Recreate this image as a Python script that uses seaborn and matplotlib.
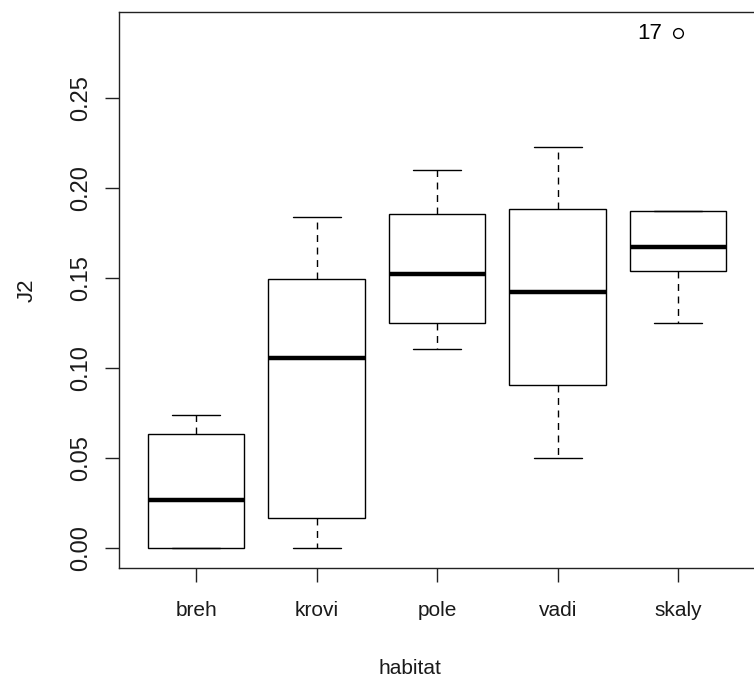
import numpy as np
import pandas as pd
import matplotlib
matplotlib.use("Agg")
import matplotlib.pyplot as plt
import seaborn as sns

# five values per habitat: lower whisker, Q1, median, Q3, upper (skaly's upper is the outlier)
habitats = ["breh", "krovi", "pole", "vadi", "skaly"]
breh = [0.000, 0.000, 0.0267, 0.0633, 0.0739]
krovi = [0.000, 0.0167, 0.1056, 0.1494, 0.1839]
pole = [0.1106, 0.1250, 0.1522, 0.1856, 0.2100]
vadi = [0.0500, 0.0906, 0.1422, 0.1883, 0.2228]
skaly = [0.1250, 0.1539, 0.1672, 0.1872, 0.2861]
outlier_label = "17"
yticks = [0.00, 0.05, 0.10, 0.15, 0.20, 0.25]

df = pd.DataFrame({
    "habitat": np.repeat(habitats, 5),
    "J2": breh + krovi + pole + vadi + skaly,
})

sns.set_style("ticks")
plt.rcParams["font.family"] = ["Liberation Sans", "DejaVu Sans"]

fig = plt.figure(figsize=(7.54, 6.8), dpi=100)
ax = fig.add_axes([119 / 754, 112 / 680, 643.5 / 754, 556 / 680])

sns.boxplot(
    data=df, x="habitat", y="J2", order=habitats, ax=ax,
    color="white", linecolor="black", linewidth=1.0, width=0.8, whis=1.5,
    medianprops=dict(linewidth=3.2, color="black"),
    whiskerprops=dict(linestyle=(0, (5, 4)), linewidth=1.0),
    capprops=dict(linewidth=1.0),
    flierprops=dict(marker="o", markerfacecolor="none", markeredgecolor="black",
                    markersize=7, markeredgewidth=1.0),
)

ax.text(4 - 0.13, skaly[-1], outlier_label, ha="right", va="center",
        fontsize=16, color="black")

ax.set_xlim(-0.64, 4.7)
ax.set_ylim(-0.0111, 0.2978)
ax.set_yticks(yticks)
ax.set_yticklabels([f"{v:.2f}" for v in yticks], rotation=90, va="center")

for side in ["left", "bottom", "top", "right"]:
    ax.spines[side].set_visible(True)
    ax.spines[side].set_color("#222222")
    ax.spines[side].set_linewidth(1.0)

ax.tick_params(axis="both", direction="out", length=10, width=1.0,
               color="#222222", labelcolor="#1a1a1a")
ax.tick_params(axis="x", pad=14, labelsize=15)
ax.tick_params(axis="y", pad=9, labelsize=17)

ax.set_xlabel("habitat", fontsize=15, color="#1a1a1a")
ax.set_ylabel("J2", fontsize=16, color="#1a1a1a")
ax.xaxis.set_label_coords(0.452, -0.163)
ax.yaxis.set_label_coords(-0.127, 0.5)

fig.savefig("out.png", dpi=100)
